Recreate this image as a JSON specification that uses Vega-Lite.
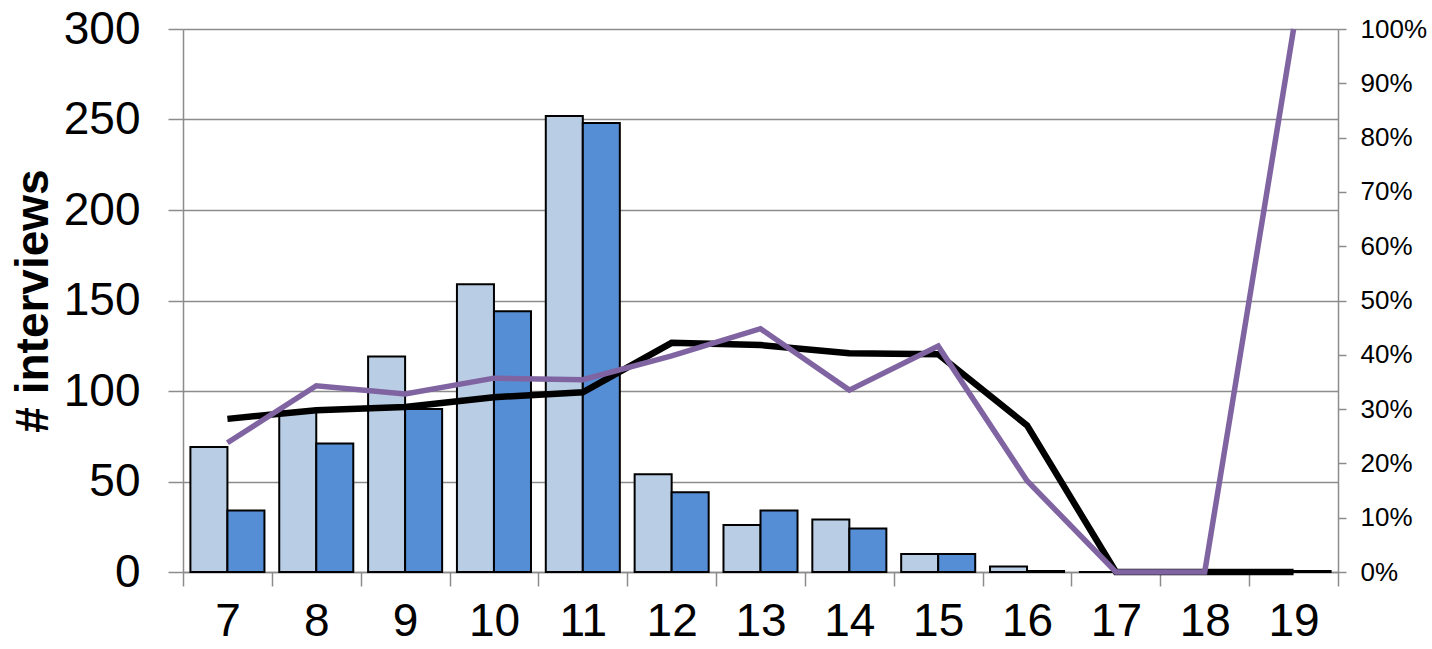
{
  "$schema": "https://vega.github.io/schema/vega-lite/v6.json",
  "width": 1155,
  "height": 543,
  "autosize": {"type": "none"},
  "padding": {"left": 183, "top": 29, "right": 94, "bottom": 77},
  "background": "white",
  "config": {"view": {"stroke": null}, "font": "Liberation Sans"},
  "data": {
    "values": [
      {"cat": 7, "light": 69, "dark": 34, "r1": 0.282, "r2": 0.238},
      {"cat": 8, "light": 89, "dark": 71, "r1": 0.298, "r2": 0.343},
      {"cat": 9, "light": 119, "dark": 90, "r1": 0.304, "r2": 0.328},
      {"cat": 10, "light": 159, "dark": 144, "r1": 0.322, "r2": 0.357},
      {"cat": 11, "light": 252, "dark": 248, "r1": 0.331, "r2": 0.354},
      {"cat": 12, "light": 54, "dark": 44, "r1": 0.422, "r2": 0.398},
      {"cat": 13, "light": 26, "dark": 34, "r1": 0.418, "r2": 0.448},
      {"cat": 14, "light": 29, "dark": 24, "r1": 0.403, "r2": 0.335},
      {"cat": 15, "light": 10, "dark": 10, "r1": 0.401, "r2": 0.416},
      {"cat": 16, "light": 3, "dark": 0.5, "r1": 0.27, "r2": 0.168},
      {"cat": 17, "light": 0, "dark": 0, "r1": 0, "r2": 0},
      {"cat": 18, "light": 0, "dark": 0, "r1": 0, "r2": 0},
      {"cat": 19, "light": 0, "dark": 0.5, "r1": 0, "r2": 1.0}
    ]
  },
  "encoding": {
    "x": {
      "field": "cat",
      "type": "ordinal",
      "sort": null,
      "scale": {"paddingInner": 0, "paddingOuter": 0},
      "axis": {
        "title": null,
        "labelAngle": 0,
        "labelFontSize": 46,
        "labelColor": "black",
        "labelPadding": 13,
        "tickBand": "extent",
        "tickSize": 14,
        "tickColor": "#8c8c8c",
        "tickWidth": 1.5,
        "domainColor": "#8c8c8c",
        "domainWidth": 1.5
      }
    }
  },
  "layer": [
    {
      "transform": [{"fold": ["light", "dark"], "as": ["series", "count"]}],
      "mark": {"type": "bar", "stroke": "black", "strokeWidth": 2},
      "encoding": {
        "xOffset": {"field": "series", "sort": ["light", "dark"], "scale": {"paddingOuter": 0.2, "paddingInner": 0}},
        "y": {
          "field": "count",
          "type": "quantitative",
          "scale": {"domain": [0, 300]},
          "axis": {
            "orient": "left",
            "title": "# interviews",
            "titleFontSize": 46,
            "titleFontWeight": "bold",
            "titleColor": "black",
            "titlePadding": 6,
            "values": [0, 50, 100, 150, 200, 250, 300],
            "labelFontSize": 46,
            "labelColor": "black",
            "labelPadding": 28,
            "tickSize": 15,
            "tickColor": "#8c8c8c",
            "tickWidth": 1.5,
            "domainColor": "#8c8c8c",
            "domainWidth": 1.5,
            "grid": true,
            "gridColor": "#8c8c8c",
            "gridWidth": 1.5
          }
        },
        "color": {
          "field": "series",
          "scale": {"domain": ["light", "dark"], "range": ["#B9CDE5", "#558ED5"]},
          "legend": null
        }
      }
    },
    {
      "layer": [
        {
          "mark": {"type": "line", "color": "black", "strokeWidth": 6.5},
          "encoding": {
            "y": {
              "field": "r1",
              "type": "quantitative",
              "scale": {"domain": [0, 1]},
              "axis": {
                "orient": "right",
                "title": null,
                "format": ".0%",
                "values": [0, 0.1, 0.2, 0.3, 0.4, 0.5, 0.6, 0.7, 0.8, 0.9, 1.0],
                "labelFontSize": 26,
                "labelColor": "black",
                "labelPadding": 14,
                "tickSize": 8,
                "tickColor": "#8c8c8c",
                "tickWidth": 1.5,
                "domainColor": "#8c8c8c",
                "domainWidth": 1.5,
                "grid": false
              }
            }
          }
        },
        {
          "mark": {"type": "line", "color": "#8064A2", "strokeWidth": 5.5},
          "encoding": {
            "y": {
              "field": "r2",
              "type": "quantitative",
              "scale": {"domain": [0, 1]},
              "axis": {
                "orient": "right",
                "title": null,
                "format": ".0%",
                "values": [0, 0.1, 0.2, 0.3, 0.4, 0.5, 0.6, 0.7, 0.8, 0.9, 1.0],
                "labelFontSize": 26,
                "labelColor": "black",
                "labelPadding": 14,
                "tickSize": 8,
                "tickColor": "#8c8c8c",
                "tickWidth": 1.5,
                "domainColor": "#8c8c8c",
                "domainWidth": 1.5,
                "grid": false
              }
            }
          }
        }
      ]
    }
  ],
  "resolve": {"scale": {"y": "independent"}}
}
